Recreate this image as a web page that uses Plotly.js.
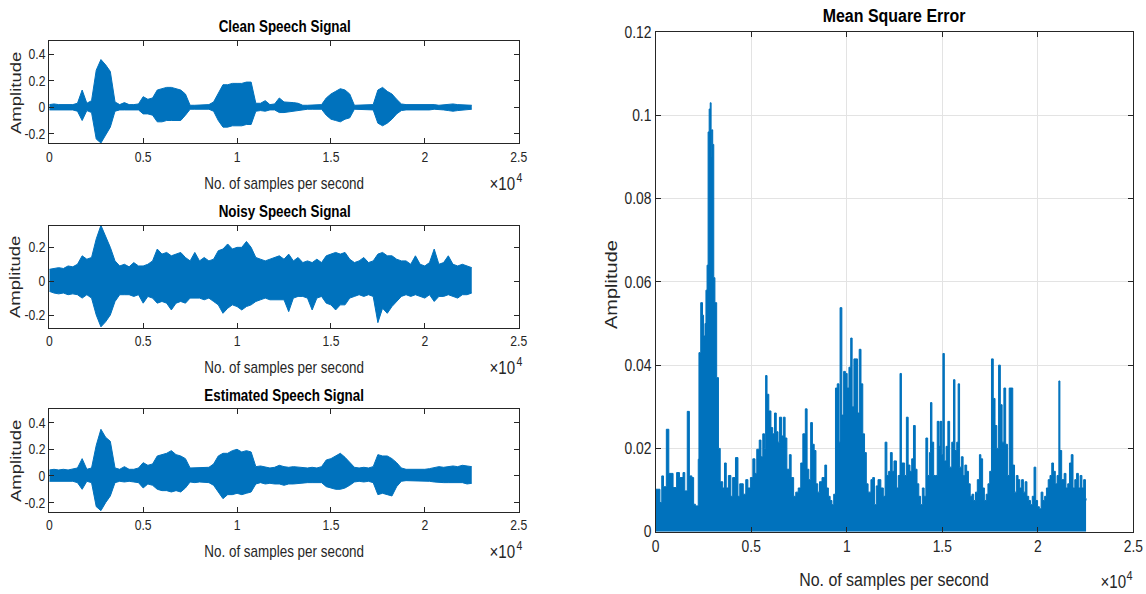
<!DOCTYPE html>
<html>
<head>
<meta charset="utf-8">
<script src="https://cdn.plot.ly/plotly-3.0.1.min.js"></script>
<style>html,body{margin:0;padding:0;background:#fff;}#chart{width:1146px;height:594px;}</style>
</head>
<body>
<div id="chart"></div>
<script>
// ---------------- DATA ----------------
// sample positions of the waveform envelopes
const envX = [0,250,500,750,1000,1250,1500,1750,2000,2250,
  2500,2750,3000,3250,3500,3750,4000,4250,4500,4750,
  5000,5250,5500,5750,6000,6250,6500,6750,7000,7250,
  7500,7750,8000,8250,8500,8750,9000,9250,9500,9750,
  10000,10250,10500,10750,11000,11250,11500,11750,12000,12250,
  12500,12750,13000,13250,13500,13750,14000,14250,14500,14750,
  15000,15250,15500,15750,16000,16250,16500,16750,17000,17250,
  17500,17750,18000,18250,18500,18750,19000,19250,19500,19750,
  20000,20250,20500,20750,21000,21250,21500,21750,22000,22250,22500];

// Clean speech signal: upper / lower envelope
const cleanUpper = [0.02,0.025,0.02,0.02,0.025,0.02,0.03,0.13,0.03,0.05,
  0.28,0.36,0.32,0.27,0.04,0.02,0.035,0.02,0.02,0.025,
  0.08,0.06,0.07,0.13,0.14,0.15,0.15,0.14,0.13,0.1,
  0.015,0.015,0.015,0.015,0.02,0.04,0.1,0.17,0.17,0.18,
  0.18,0.18,0.19,0.19,0.03,0.03,0.05,0.02,0.025,0.07,
  0.04,0.04,0.035,0.03,0.015,0.015,0.015,0.015,0.02,0.07,
  0.1,0.12,0.14,0.13,0.1,0.015,0.015,0.015,0.015,0.02,
  0.13,0.15,0.12,0.1,0.06,0.025,0.02,0.02,0.025,0.025,
  0.02,0.02,0.02,0.015,0.02,0.025,0.025,0.02,0.02,0.015,0.015];
const cleanLower = [-0.02,-0.02,-0.025,-0.02,-0.02,-0.02,-0.03,-0.1,-0.025,-0.04,
  -0.24,-0.27,-0.21,-0.15,-0.03,-0.02,-0.02,-0.02,-0.015,-0.02,
  -0.05,-0.05,-0.06,-0.11,-0.11,-0.1,-0.1,-0.1,-0.1,-0.06,
  -0.015,-0.015,-0.015,-0.015,-0.015,-0.03,-0.1,-0.15,-0.15,-0.14,
  -0.14,-0.14,-0.13,-0.13,-0.03,-0.025,-0.03,-0.02,-0.02,-0.04,
  -0.04,-0.035,-0.03,-0.02,-0.015,-0.015,-0.015,-0.015,-0.015,-0.06,
  -0.09,-0.1,-0.11,-0.09,-0.08,-0.015,-0.015,-0.015,-0.015,-0.02,
  -0.12,-0.14,-0.12,-0.09,-0.05,-0.025,-0.02,-0.02,-0.02,-0.025,
  -0.02,-0.02,-0.015,-0.015,-0.02,-0.025,-0.03,-0.025,-0.02,-0.015,-0.015];

// Noisy speech signal
const noisyUpper = [0.07,0.075,0.08,0.075,0.09,0.085,0.1,0.15,0.13,0.14,
  0.25,0.33,0.27,0.2,0.12,0.09,0.1,0.085,0.11,0.09,
  0.09,0.1,0.12,0.19,0.16,0.17,0.15,0.16,0.17,0.14,
  0.12,0.17,0.12,0.14,0.12,0.13,0.18,0.19,0.22,0.19,
  0.2,0.2,0.235,0.2,0.14,0.13,0.12,0.13,0.14,0.15,
  0.13,0.16,0.12,0.14,0.11,0.12,0.11,0.13,0.11,0.15,
  0.16,0.17,0.16,0.17,0.13,0.11,0.12,0.14,0.11,0.12,
  0.16,0.17,0.15,0.15,0.13,0.12,0.12,0.1,0.15,0.1,
  0.09,0.11,0.19,0.1,0.11,0.15,0.1,0.09,0.1,0.09,0.08];
const noisyLower = [-0.06,-0.07,-0.075,-0.07,-0.08,-0.075,-0.08,-0.1,-0.08,-0.1,
  -0.2,-0.27,-0.24,-0.2,-0.12,-0.08,-0.08,-0.08,-0.09,-0.08,
  -0.13,-0.09,-0.1,-0.13,-0.12,-0.13,-0.17,-0.13,-0.12,-0.13,
  -0.1,-0.1,-0.1,-0.11,-0.1,-0.12,-0.14,-0.19,-0.16,-0.14,
  -0.15,-0.17,-0.15,-0.14,-0.12,-0.11,-0.1,-0.11,-0.11,-0.11,
  -0.11,-0.18,-0.1,-0.09,-0.09,-0.1,-0.17,-0.1,-0.09,-0.13,
  -0.14,-0.17,-0.14,-0.14,-0.1,-0.09,-0.08,-0.09,-0.08,-0.09,
  -0.245,-0.16,-0.19,-0.15,-0.12,-0.09,-0.08,-0.09,-0.08,-0.09,
  -0.1,-0.08,-0.12,-0.09,-0.09,-0.08,-0.09,-0.1,-0.08,-0.08,-0.07];

// Estimated speech signal
const estUpper = [0.045,0.05,0.045,0.05,0.045,0.05,0.06,0.13,0.05,0.06,
  0.23,0.35,0.29,0.26,0.06,0.05,0.07,0.05,0.05,0.06,
  0.1,0.08,0.09,0.15,0.16,0.17,0.19,0.16,0.15,0.13,
  0.06,0.06,0.065,0.06,0.065,0.09,0.15,0.17,0.17,0.19,
  0.2,0.18,0.19,0.18,0.07,0.075,0.07,0.06,0.065,0.08,
  0.07,0.065,0.07,0.065,0.06,0.06,0.065,0.06,0.07,0.12,
  0.13,0.15,0.17,0.14,0.1,0.065,0.06,0.065,0.06,0.07,
  0.16,0.15,0.15,0.13,0.1,0.06,0.05,0.05,0.045,0.05,
  0.05,0.055,0.06,0.07,0.065,0.07,0.075,0.07,0.08,0.075,0.07];
const estLower = [-0.04,-0.04,-0.045,-0.04,-0.045,-0.04,-0.05,-0.1,-0.04,-0.05,
  -0.23,-0.26,-0.2,-0.15,-0.05,-0.04,-0.045,-0.04,-0.045,-0.05,
  -0.09,-0.06,-0.07,-0.1,-0.11,-0.11,-0.12,-0.11,-0.12,-0.09,
  -0.045,-0.05,-0.045,-0.05,-0.05,-0.07,-0.12,-0.17,-0.14,-0.14,
  -0.13,-0.14,-0.13,-0.12,-0.06,-0.05,-0.06,-0.055,-0.06,-0.06,
  -0.07,-0.06,-0.06,-0.055,-0.05,-0.05,-0.05,-0.05,-0.05,-0.08,
  -0.09,-0.1,-0.1,-0.09,-0.07,-0.045,-0.04,-0.045,-0.04,-0.05,
  -0.14,-0.13,-0.14,-0.15,-0.08,-0.04,-0.035,-0.035,-0.035,-0.035,
  -0.035,-0.04,-0.045,-0.05,-0.05,-0.05,-0.05,-0.055,-0.05,-0.06,-0.055];

// Mean square error
const mseX = [0,223,316,408,557,687,909,1095,1244,1429,
  1522,1652,1763,1893,1986,2079,2227,2264,2357,2450,
  2506,2580,2630,2688,2743,2799,2854,2900,2929,2984,
  3040,3100,3192,3285,3378,3508,3601,3693,3805,3935,
  4028,4176,4306,4399,4584,4714,4826,4956,5085,5197,
  5290,5420,5512,5605,5698,5754,5828,5921,6032,6125,
  6218,6310,6403,6477,6589,6682,6774,6867,6997,7090,
  7220,7331,7461,7591,7702,7832,7925,8018,8111,8204,
  8296,8389,8482,8575,8705,8853,8946,9039,9131,9224,
  9317,9410,9503,9595,9651,9744,9837,9930,10022,10115,
  10208,10282,10375,10486,10560,10653,10746,10839,10932,11025,
  11117,11266,11359,11451,11544,11637,11785,11915,12008,12101,
  12194,12287,12380,12472,12602,12695,12788,12862,12936,13029,
  13122,13215,13308,13400,13493,13586,13679,13772,13864,13957,
  14050,14143,14236,14328,14384,14458,14551,14644,14737,14829,
  14885,14978,15034,15108,15201,15293,15386,15498,15590,15664,
  15757,15832,15906,15999,16092,16184,16277,16370,16463,16556,
  16648,16741,16834,16945,17020,17112,17205,17298,17391,17484,
  17576,17669,17762,17855,17948,18040,18133,18226,18319,18412,
  18504,18597,18690,18783,18876,18968,19061,19154,19247,19340,
  19432,19525,19618,19711,19804,19896,19989,20082,20175,20268,
  20360,20453,20546,20639,20732,20824,20917,21010,21103,21158,
  21251,21381,21474,21567,21659,21752,21845,21938,22031,22124,
  22216,22309,22402,22495,22528];
const mseY = [0.0102,0.007,0.0134,0.0108,0.0246,0.014,0.0106,0.0142,0.013,0.0142,
  0.0098,0.0289,0.0134,0.013,0.0066,0.0062,0.0174,0.043,0.055,0.052,
  0.047,0.05,0.058,0.064,0.096,0.1015,0.103,0.09,0.0965,0.093,
  0.061,0.055,0.037,0.02,0.012,0.0105,0.0165,0.0105,0.0135,0.0085,
  0.013,0.0178,0.0085,0.0115,0.009,0.0125,0.0105,0.013,0.0175,0.014,
  0.0198,0.022,0.018,0.0235,0.02,0.0375,0.033,0.029,0.025,0.0235,
  0.0285,0.024,0.0215,0.0275,0.023,0.0275,0.0225,0.015,0.0185,0.013,
  0.0085,0.0095,0.0105,0.0165,0.0235,0.0295,0.015,0.0125,0.0262,0.021,
  0.0195,0.0115,0.0095,0.012,0.013,0.016,0.0105,0.0085,0.0075,0.0065,
  0.009,0.0345,0.0355,0.0215,0.0538,0.028,0.0385,0.038,0.0345,0.0395,
  0.0465,0.03,0.0415,0.0415,0.0285,0.0438,0.0355,0.0235,0.019,0.0115,
  0.0095,0.0125,0.013,0.0065,0.011,0.0125,0.0105,0.0085,0.0215,0.0135,
  0.0145,0.019,0.0145,0.017,0.0105,0.0135,0.038,0.0165,0.0165,0.0135,
  0.0275,0.016,0.0145,0.0175,0.0255,0.015,0.0115,0.0085,0.0065,0.0105,
  0.0085,0.0225,0.0135,0.019,0.031,0.0215,0.0135,0.0135,0.0265,0.0205,
  0.0265,0.0185,0.0428,0.017,0.0205,0.0265,0.0155,0.0215,0.0365,0.0195,
  0.0215,0.0355,0.0155,0.018,0.0135,0.016,0.0145,0.0115,0.0085,0.009,
  0.0075,0.0095,0.0125,0.0185,0.0175,0.0105,0.0075,0.009,0.0115,0.0145,
  0.0415,0.032,0.0255,0.02,0.04,0.0305,0.0215,0.0345,0.021,0.0135,
  0.0345,0.0345,0.016,0.0095,0.0135,0.0125,0.0105,0.0125,0.0095,0.012,
  0.0085,0.0075,0.0065,0.0085,0.0155,0.0075,0.006,0.0055,0.0095,0.0075,
  0.0085,0.0105,0.0125,0.0135,0.0165,0.0145,0.0115,0.0135,0.0362,0.0195,
  0.0125,0.014,0.0105,0.0115,0.0165,0.0185,0.0105,0.0125,0.014,0.0105,
  0.0135,0.0105,0.0125,0.008,0.0075];

// tick labels and texts
const xTickVals = [0,5000,10000,15000,20000,25000];
const xTickText = ['0','0.5','1','1.5','2','2.5'];
const yTickValsSig = [-0.2,0,0.2,0.4];
const yTickTextSig = ['-0.2','0','0.2','0.4'];
const yTickValsMse = [0,0.02,0.04,0.06,0.08,0.1,0.12];
const yTickTextMse = ['0','0.02','0.04','0.06','0.08','0.1','0.12'];
const titles = ['Clean Speech Signal','Noisy Speech Signal','Estimated Speech Signal','Mean Square Error'];
const xTitle = 'No. of samples per second';
const yTitle = 'Amplitude';
const expBase = '×10', expPow = '4';

// ---------------- STYLE / LAYOUT ----------------
const W = 1146, H = 594;
const BLUE = '#0072BD', AX = '#262626';
const FONT = "'Liberation Sans', Arial, Helvetica, sans-serif";
const SX = 0.84, SY = 0.78;   // horizontal condensing of the lettering (as in the reference)
const fx = p => p / W, fy = p => 1 - p / H;

function envTraces(upper, lower, xa, ya) {
  return [
    {x: envX, y: upper, xaxis: xa, yaxis: ya, type: 'scatter', mode: 'lines',
     line: {color: BLUE, width: 1}, hoverinfo: 'skip', showlegend: false},
    {x: envX, y: lower, xaxis: xa, yaxis: ya, type: 'scatter', mode: 'lines',
     line: {color: BLUE, width: 1}, fill: 'tonexty', fillcolor: BLUE, hoverinfo: 'skip', showlegend: false}
  ];
}

const data = [].concat(
  envTraces(cleanUpper, cleanLower, 'x', 'y'),
  envTraces(noisyUpper, noisyLower, 'x2', 'y2'),
  envTraces(estUpper, estLower, 'x3', 'y3'),
  [{x: mseX, y: mseY, xaxis: 'x4', yaxis: 'y4', type: 'scatter', mode: 'lines',
    line: {color: BLUE, width: 1, shape: 'hv'}, fill: 'tozeroy', fillcolor: BLUE,
    hoverinfo: 'skip', showlegend: false}]
);

function xAx(domain, anchor, size, grid) {
  return {domain: domain, anchor: anchor, range: [0, 25000], tickvals: xTickVals, ticktext: xTickText,
    showline: true, linecolor: AX, linewidth: 1, mirror: 'ticks', ticks: 'inside', ticklen: 5,
    tickcolor: AX, zeroline: false, showgrid: grid, gridcolor: '#e3e3e3',
    tickfont: {family: FONT, size: size, color: AX}, fixedrange: true};
}
function yAx(domain, anchor, range, vals, text, size, grid) {
  return {domain: domain, anchor: anchor, range: range, tickvals: vals, ticktext: text,
    showline: true, linecolor: AX, linewidth: 1, mirror: 'ticks', ticks: 'inside', ticklen: 5,
    tickcolor: AX, zeroline: false, showgrid: grid, gridcolor: '#e3e3e3',
    tickfont: {family: FONT, size: size, color: AX}, fixedrange: true};
}

const LX = [fx(49.3), fx(518.7)];
const R1 = [fy(143.3), fy(41)], R2 = [fy(327.7), fy(225.7)], R3 = [fy(511.7), fy(409.3)];
const RX = [fx(655.7), fx(1133.3)], RY = [fy(531.7), fy(32)];

function ann(text, x, y, size, bold, angle) {
  return {text: text, x: fx(x), y: fy(y), xref: 'paper', yref: 'paper',
    xanchor: 'center', yanchor: 'middle', showarrow: false, textangle: angle || 0,
    font: {family: FONT, size: size, color: bold ? '#000' : AX, weight: bold ? 700 : 400}};
}

const annotations = [
  ann(titles[0], 284, 27, 16, true), ann(titles[1], 284, 211, 16, true),
  ann(titles[2], 284, 395, 16, true), ann(titles[3], 894, 15, 19, true),
  ann(xTitle, 284, 183, 16), ann(xTitle, 284, 367, 16),
  ann(xTitle, 284, 551, 16), ann(xTitle, 894, 579, 19),
  ann(expBase, 503, 184, 18), ann(expPow, 519.5, 177.5, 12.5),
  ann(expBase, 503, 368, 18), ann(expPow, 519.5, 361.5, 12.5),
  ann(expBase, 503, 552, 18), ann(expPow, 519.5, 545.5, 12.5),
  ann(expBase, 1113, 582, 18), ann(expPow, 1129.5, 575.5, 13),
  ann(yTitle, 15, 93, 18.5, false, -90), ann(yTitle, 15, 277, 18.5, false, -90),
  ann(yTitle, 15, 461, 18.5, false, -90), ann(yTitle, 612, 285, 20, false, -90)
];

const layout = {
  width: W, height: H, margin: {l: 0, r: 0, t: 0, b: 0},
  paper_bgcolor: '#fff', plot_bgcolor: '#fff', showlegend: false,
  xaxis: xAx(LX, 'y', 14.5, false),
  yaxis: yAx(R1, 'x', [-0.272, 0.5], yTickValsSig, yTickTextSig, 14.5, false),
  xaxis2: xAx(LX, 'y2', 14.5, false),
  yaxis2: yAx(R2, 'x2', [-0.275, 0.328], yTickValsSig, yTickTextSig, 14.5, false),
  xaxis3: xAx(LX, 'y3', 14.5, false),
  yaxis3: yAx(R3, 'x3', [-0.268, 0.5], yTickValsSig, yTickTextSig, 14.5, false),
  xaxis4: xAx(RX, 'y4', 16.5, true),
  yaxis4: yAx(RY, 'x4', [0, 0.12], yTickValsMse, yTickTextMse, 16.5, true),
  annotations: annotations
};

// condense lettering horizontally around each text's anchor (text stays real SVG text)
function condense(gd) {
  const rot = /rotate\(\s*-?90/;
  gd.querySelectorAll('svg.main-svg text').forEach(t => {
    if (!t.textContent.trim()) return;
    let rotated = rot.test(t.getAttribute('transform') || '');
    for (let p = t.parentNode; p && p.getAttribute && !rotated; p = p.parentNode) {
      if (rot.test(p.getAttribute('transform') || '')) rotated = true;
    }
    const bb = t.getBBox();
    const tr0 = t.getAttribute('transform') || '';
    let s;
    if (rotated) {
      const cy = bb.y + bb.height / 2;
      s = 'translate(0,' + cy + ') scale(1,' + SY + ') translate(0,' + (-cy) + ')';
    } else {
      const anchor = t.getAttribute('text-anchor') || (t.style && t.style.textAnchor) || 'start';
      const cx = anchor === 'end' ? bb.x + bb.width : (anchor === 'middle' ? bb.x + bb.width / 2 : bb.x);
      s = 'translate(' + cx + ',0) scale(' + SX + ',1) translate(' + (-cx) + ',0)';
    }
    t.setAttribute('transform', (tr0 + ' ' + s).trim());
  });
}

Plotly.newPlot('chart', data, layout, {staticPlot: true, displayModeBar: false})
  .then(gd => condense(gd));
</script>
</body>
</html>
